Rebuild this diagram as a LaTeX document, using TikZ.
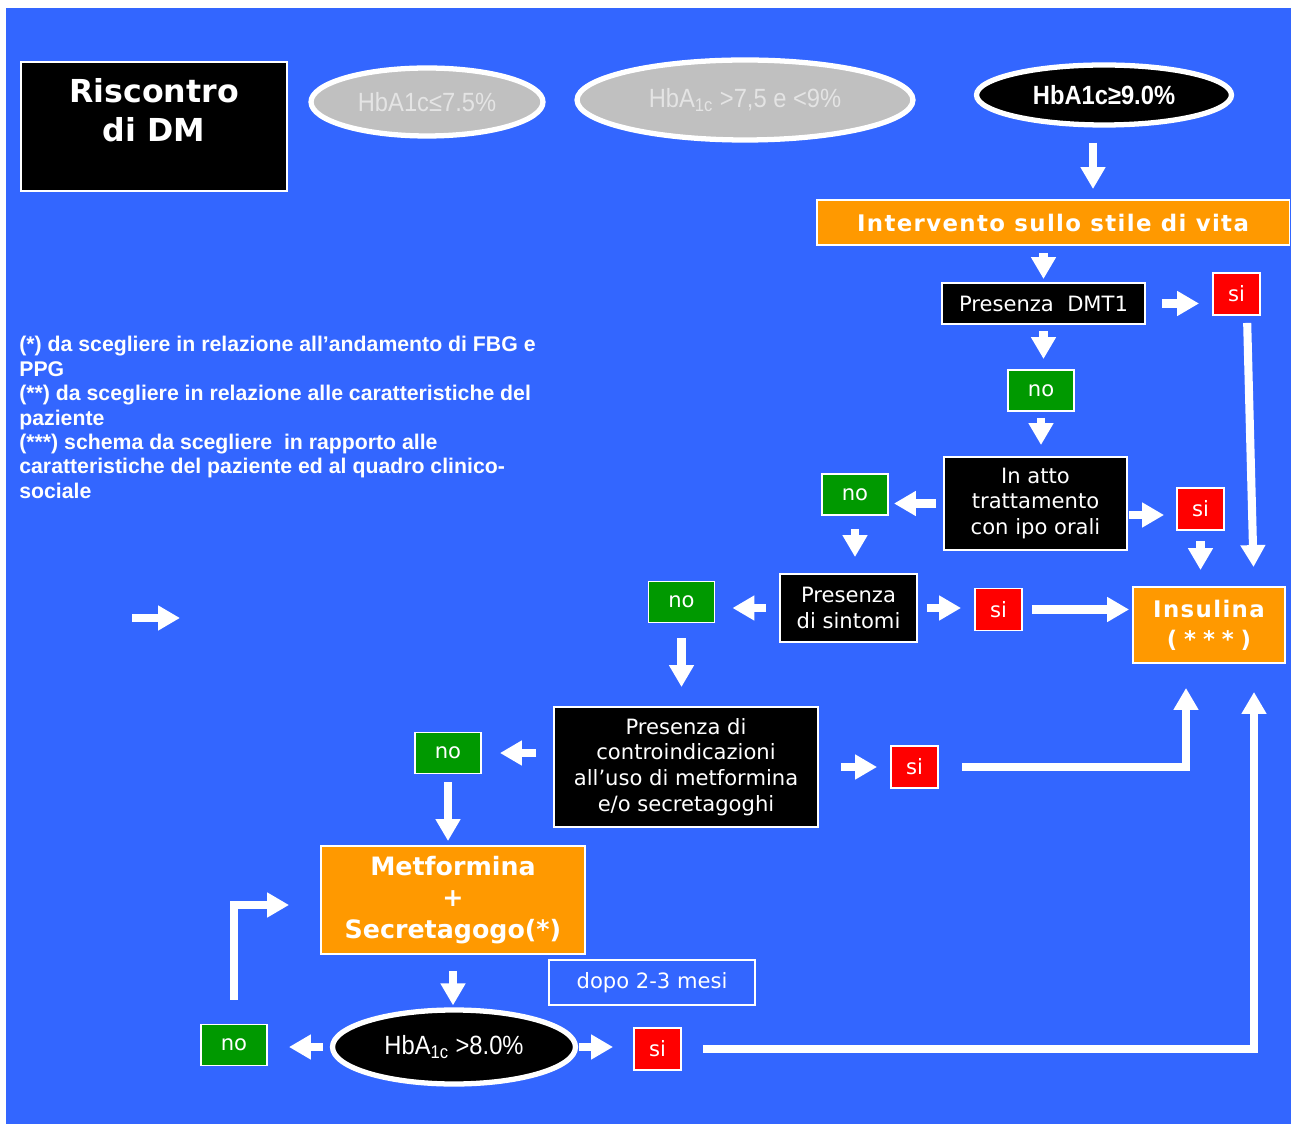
\documentclass[tikz,border=0pt]{standalone}
\usepackage{fontspec}
\setmainfont{DejaVu Sans}
\newfontfamily\notefont{Liberation Sans}
\newfontfamily\narrowfont[FakeStretch=0.9]{Liberation Sans}
\newfontfamily\spacedfont[LetterSpace=6]{DejaVu Sans}
\newfontfamily\widefont[LetterSpace=30]{DejaVu Sans}
\usetikzlibrary{shapes.geometric,arrows.meta}

\definecolor{bgblue}{HTML}{3366FF}
\definecolor{sired}{HTML}{FF0000}
\definecolor{nogreen}{HTML}{009900}
\definecolor{therapyorange}{HTML}{FF9900}
\definecolor{ovalgray}{HTML}{C0C0C0}
\definecolor{ovaltext}{HTML}{E4E4E4}

\tikzset{
  box/.style={draw=white, line width=1.1pt, text=white, align=center, inner sep=0pt,
    font=\fontsize{12}{14.7}\selectfont},
  darkbox/.style={box, fill=black},
  sibox/.style={box, fill=sired, minimum width=0.94cm, minimum height=0.84cm},
  nobox/.style={box, fill=nogreen, minimum width=1.32cm, minimum height=0.82cm},
  therapy/.style={box, fill=therapyorange},
  hba/.style={ellipse, draw=white, line width=3pt, inner sep=0pt,
    font=\narrowfont\fontsize{15}{17}\selectfont},
  blk/.style={draw=white, line width=4.6pt, -{Triangle[width=13.5pt,length=12.5pt]}},
}

\begin{document}
\begin{tikzpicture}[x=0.02cm, y=-0.02cm]
    \useasboundingbox (0,0) rectangle (1291,1124);
    \fill[white] (0,0) rectangle (1291,1124);
    \fill[bgblue] (6,8) rectangle (1291,1124);

    % top row
    \node [darkbox, minimum width=5.32cm, minimum height=2.58cm, font=\bfseries\fontsize{18}{22}\selectfont]
      (riscontro) at (154,126.5) {Riscontro\\di DM\\[-3pt]\mbox{}};
    \node [hba, fill=ovalgray, text=ovaltext, minimum width=4.64cm, minimum height=1.36cm] (hbalow) at (427,102) {HbA1c≤7.5\%};
    \node [hba, fill=ovalgray, text=ovaltext, minimum width=6.72cm, minimum height=1.6cm] (hbamid) at (745,100) {HbA\textsubscript{1c}\ >7,5\ e\ <9\%};
    \node [hba, fill=black, text=white, minimum width=5.1cm, minimum height=1.2cm, font=\narrowfont\bfseries\fontsize{15}{17}\selectfont]
      (hbahigh) at (1104,95) {HbA1c≥9.0\%};

    \node [anchor=north west, align=left, inner sep=0pt, text=white, font=\notefont\bfseries\fontsize{12.1}{13.9}\selectfont] (notes) at (19,336)
      {(*) da scegliere in relazione all’andamento di FBG e\\PPG\\(**) da scegliere in relazione alle caratteristiche del\\paziente\\(***) schema da scegliere\ \ in rapporto alle\\caratteristiche del paziente ed al quadro clinico-\\sociale};

    % flow
    \node [therapy, minimum width=9.46cm, minimum height=0.9cm, font=\spacedfont\bfseries\fontsize{13}{15}\selectfont]
      (stile) at (1053,222.5) {Intervento sullo stile di vita};
    \node [darkbox, minimum width=4.06cm, minimum height=0.82cm] (dmt1) at (1043.5,303.5) {Presenza~~DMT1};
    \node [darkbox, minimum width=3.66cm, minimum height=1.86cm] (ipoorali) at (1035.5,503.5) {In atto\\trattamento\\con ipo orali};
    \node [darkbox, minimum width=2.74cm, minimum height=1.36cm] (sintomi) at (848.5,608) {Presenza\\di sintomi};
    \node [darkbox, minimum width=5.28cm, minimum height=2.4cm] (controind) at (686,767)
      {Presenza di\\controindicazioni\\all’uso di metformina\\e/o secretagoghi};
    \node [therapy, minimum width=3.04cm, minimum height=1.52cm, font=\spacedfont\bfseries\fontsize{13}{17}\selectfont]
      (insulina) at (1209,625) {Insulina\\{\widefont\bfseries(***)}};
    \node [therapy, minimum width=5.28cm, minimum height=2.16cm, font=\bfseries\fontsize{14.4}{17.8}\selectfont]
      (metf) at (453,900) {Metformina\\+\\Secretagogo(*)};
    \node [box, minimum width=4.12cm, minimum height=0.9cm] (dopo) at (652,982.5) {dopo 2-3 mesi};
    \node [hba, fill=black, text=white, minimum width=4.86cm, minimum height=1.48cm] (hbactrl) at (454,1047) {HbA\textsubscript{1c}\ >8.0\%};

    \foreach \n/\x/\y in {si1/1236.5/294, si2/1200.5/509, si3/998.5/609.5, si4/914.5/767, si5/657.5/1049}
    \node [sibox] (\n) at (\x,\y) {si};
    \foreach \n/\x/\y in {no1/1041/390.5, no2/855/494.5, no3/681.5/602, no4/448/753, no5/234/1045}
    \node [nobox] (\n) at (\x,\y) {no};

    % arrows
    \draw [blk, shorten <=0.3cm, shorten >=0.2cm] ([xshift=-0.22cm]hbahigh.south) -- ([xshift=-0.22cm]hbahigh.south |- stile.north);
    \draw [blk, shorten <=0.14cm, shorten >=0.06cm] (dmt1.north |- stile.south) -- (dmt1.north);
    \draw [blk, shorten <=0.32cm, shorten >=0.26cm] (dmt1.east) -- (dmt1.east -| si1.west);
    \draw [blk, shorten <=0.14cm, shorten >=0.38cm] ([xshift=0.21cm]si1.south) -- ([xshift=0.9cm]insulina.north);
    \draw [blk, shorten <=0.12cm, shorten >=0.2cm] (dmt1.south) -- (dmt1.south |- no1.north);
    \draw [blk, shorten <=0.12cm, shorten >=0.22cm] (no1.south) -- (no1.south |- ipoorali.north);
    \draw [blk, shorten <=0.14cm, shorten >=0.1cm] (ipoorali.west) -- (ipoorali.west -| no2.east);
    \draw [blk, shorten <=0.02cm, shorten >=0.24cm] ([yshift=-0.23cm]ipoorali.east) -- ([yshift=-0.23cm]ipoorali.east -| si2.west);
    \draw [blk, shorten <=0.2cm, shorten >=0.32cm] (si2.south) -- (si2.south |- insulina.north);
    \draw [blk, shorten <=0.26cm, shorten >=0.32cm] (no2.south) -- (no2.south |- sintomi.north);
    \draw [blk, shorten <=0.26cm, shorten >=0.34cm] (sintomi.west) -- (sintomi.west -| no3.east);
    \draw [blk, shorten <=0.18cm, shorten >=0.26cm] (sintomi.east) -- (sintomi.east -| si3.west);
    \draw [blk, shorten <=0.18cm, shorten >=0.06cm] (si3.east) -- (si3.east -| insulina.west);
    \draw [blk, shorten <=0.3cm, shorten >=0.38cm] (no3.south) -- (no3.south |- controind.north);
    \draw [blk, shorten <=0.34cm, shorten >=0.36cm] (no4.east -| controind.west) -- (no4.east);
    \draw [blk, shorten <=0.44cm, shorten >=0.26cm] (controind.east) -- (controind.east -| si4.west);
    \draw [blk, shorten <=0.46cm, shorten >=0.48cm] (si4.east) -| ([xshift=-0.46cm]insulina.south);
    \draw [blk, shorten <=0.16cm, shorten >=0.08cm] (no4.south) -- (no4.south |- metf.north);
    \draw [blk, shorten <=0.32cm, shorten >=0.04cm] (metf.south) -- (metf.south |- hbactrl.north);
    \draw [blk, shorten <=0.14cm, shorten >=0.42cm] (hbactrl.west) -- (hbactrl.west -| no5.east);
    \draw [blk, shorten <=0.48cm, shorten >=0.62cm] (no5.north) |- ([yshift=-0.1cm]metf.west);
    \draw [blk, shorten <=0.02cm, shorten >=0.4cm] (hbactrl.east) -- (hbactrl.east -| si5.west);
    \draw [blk, shorten <=0.42cm, shorten >=0.56cm] (si5.east) -| ([xshift=0.9cm]insulina.south);
    \coordinate (loose) at (132,618);
    \draw [blk] (loose) -- ++(48,0);
\end{tikzpicture}
\end{document}
